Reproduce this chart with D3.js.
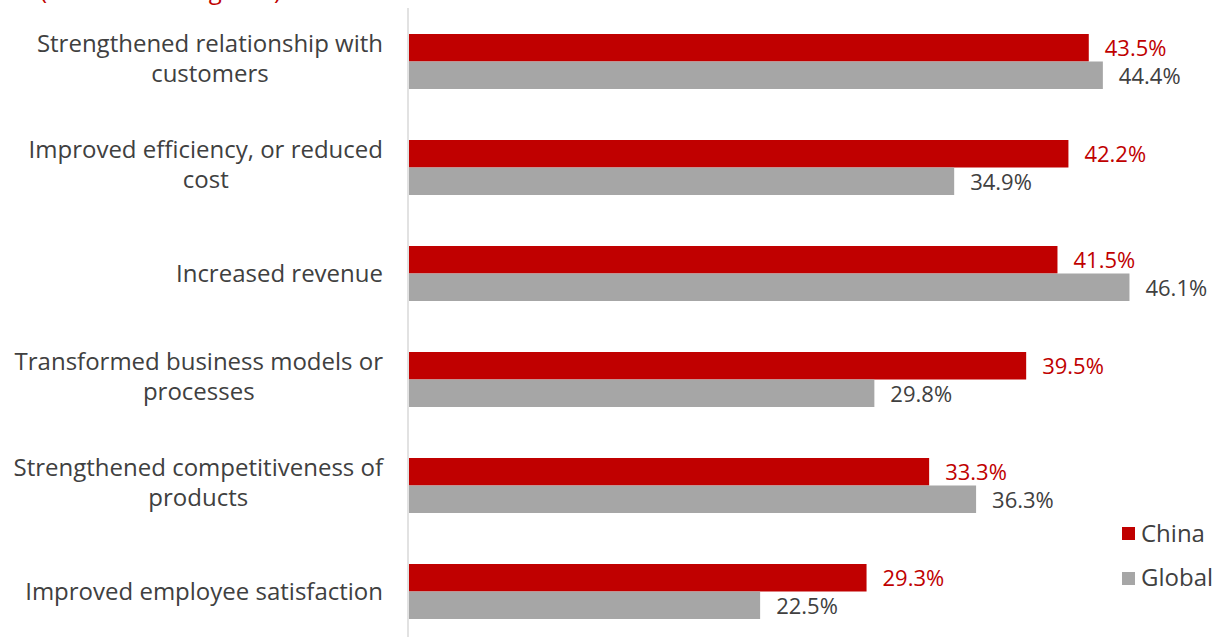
<!DOCTYPE html>
<html>
<head>
<meta charset="utf-8">
<script src="https://cdn.jsdelivr.net/npm/d3@7"></script>
<style>
  html, body { margin: 0; padding: 0; background: #fff; overflow: hidden; }
  svg { display: block; font-family: "Open Sans", "Liberation Sans", sans-serif; }
</style>
</head>
<body>
<svg id="chart" width="1227" height="637"></svg>
<script>
// Benefits of digital transformation, China vs. global
const categories = [
  ["Strengthened relationship with", "customers"],
  ["Improved efficiency, or reduced", "cost"],
  ["Increased revenue"],
  ["Transformed business models or", "processes"],
  ["Strengthened competitiveness of", "products"],
  ["Improved employee satisfaction"]
];
const seriesNames = ["China", "Global"];
const chinaValues = [43.5, 42.2, 41.5, 39.5, 33.3, 29.3];
const globalValues = [44.4, 34.9, 46.1, 29.8, 36.3, 22.5];
const subtitle = "(Realized through DX)";

const colors = { China: "#C00000", Global: "#A6A6A6" };
const labelColors = { China: "#C00000", Global: "#404040" };

const svg = d3.select("#chart");
const keys = categories.map((c, i) => "c" + i);

const x = d3.scaleLinear().domain([0, 10]).range([408, 564.5]);
const y = d3.scaleBand().domain(keys).range([8.5, 644.5])
  .paddingInner(51 / 106).paddingOuter(51 / 212);
const ySub = d3.scaleBand().domain(seriesNames).range([0, y.bandwidth()]);

// subtitle, mostly above the visible area
svg.append("text")
  .attr("x", 40).attr("y", -1)
  .attr("fill", "#C00000")
  .attr("font-size", 24)
  .text(subtitle);

// category axis line
svg.append("line")
  .attr("x1", 408).attr("x2", 408)
  .attr("y1", 8).attr("y2", 637)
  .attr("stroke", "#D9D9D9").attr("stroke-width", 1.5);

const data = categories.map((c, i) => ({
  key: keys[i], lines: c,
  vals: [{ s: "China", v: chinaValues[i] }, { s: "Global", v: globalValues[i] }]
}));

const g = svg.selectAll("g.grp").data(data).join("g")
  .attr("class", "grp")
  .attr("transform", d => `translate(0,${y(d.key)})`);

g.selectAll("rect").data(d => d.vals).join("rect")
  .attr("x", x(0) + 1)
  .attr("y", d => ySub(d.s))
  .attr("width", d => x(d.v) - x(0) - 1)
  .attr("height", ySub.bandwidth())
  .attr("fill", d => colors[d.s]);

g.selectAll("text.val").data(d => d.vals).join("text")
  .attr("class", "val")
  .attr("x", d => x(d.v) + 16)
  .attr("y", d => ySub(d.s) + ySub.bandwidth() / 2 + 8.5)
  .attr("font-size", 22)
  .attr("fill", d => labelColors[d.s])
  .text(d => d.v.toFixed(1) + "%");

// category labels: lines centred on each other, block right-aligned at the axis
const labelRight = 383;
g.each(function (d) {
  const n = d.lines.length;
  const lh = 30;
  const mid = y.bandwidth() / 2;
  const t = d3.select(this).append("text")
    .attr("text-anchor", "middle")
    .attr("font-size", 24)
    .attr("fill", "#404040");
  const spans = d.lines.map((ln, j) =>
    t.append("tspan")
      .attr("y", n === 1 ? mid + 8 : mid - 9.5 + j * lh)
      .text(ln));
  const maxW = d3.max(spans, s => s.node().getComputedTextLength());
  spans.forEach(s => s.attr("x", labelRight - maxW / 2));
});

// legend
const leg = svg.append("g").attr("transform", "translate(1122,0)");
seriesNames.forEach((s, i) => {
  leg.append("rect")
    .attr("x", 0).attr("y", 527 + i * 45)
    .attr("width", 13).attr("height", 13)
    .attr("fill", colors[s]);
  leg.append("text")
    .attr("x", 19).attr("y", 541.5 + i * 44.5)
    .attr("font-size", 24)
    .attr("fill", "#404040")
    .text(s);
});
</script>
</body>
</html>
